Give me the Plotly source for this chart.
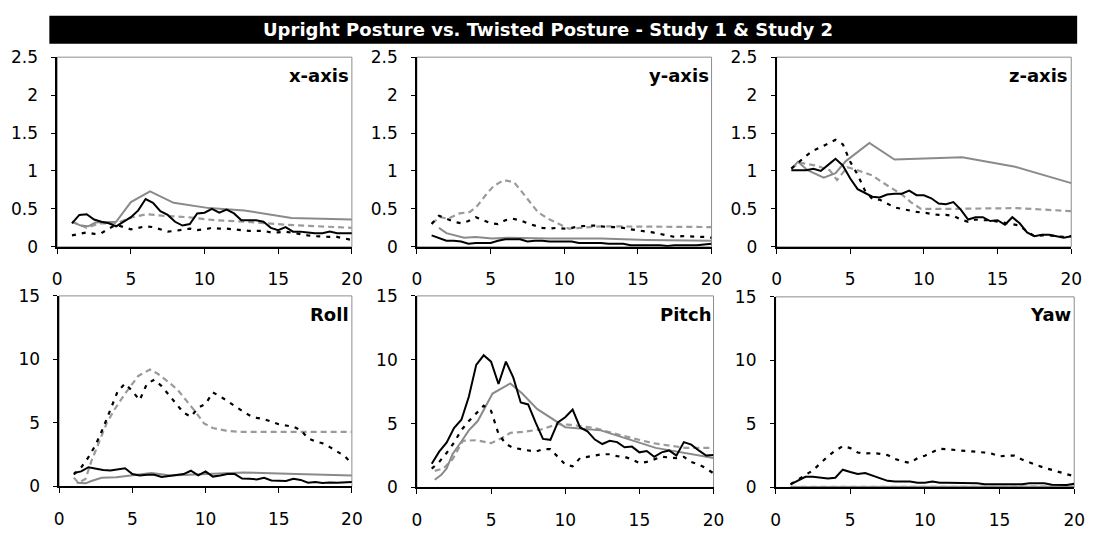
import plotly.graph_objects as go

TITLE = "Upright Posture vs. Twisted Posture - Study 1 & Study 2"
PANEL_TITLES = ["x-axis", "y-axis", "z-axis", "Roll", "Pitch", "Yaw"]
X_TICKS = [0, 5, 10, 15, 20]

# x grid of the black (Study) series
X_HALF = [1, 1.5, 2, 2.5, 3, 3.5, 4, 4.5, 5, 5.5, 6, 6.5, 7, 7.5, 8, 8.5, 9, 9.5, 10, 10.5,
          11, 11.5, 12, 12.5, 13, 13.5, 14, 14.5, 15, 15.5, 16, 16.5, 17, 17.5, 18, 18.5, 19, 19.5, 20]

# ---- x-axis panel ----
XAX_BLACK_SOLID = [0.31, 0.42, 0.43, 0.36, 0.33, 0.31, 0.27, 0.33, 0.39, 0.48, 0.63, 0.58, 0.47, 0.42, 0.33, 0.28, 0.30, 0.44, 0.45, 0.50,
                   0.45, 0.49, 0.44, 0.35, 0.35, 0.35, 0.33, 0.25, 0.22, 0.26, 0.20, 0.20, 0.19, 0.18, 0.18, 0.20, 0.18, 0.18, 0.18]
XAX_BLACK_DASH = [0.15, 0.17, 0.19, 0.17, 0.18, 0.24, 0.29, 0.26, 0.23, 0.25, 0.27, 0.26, 0.23, 0.20, 0.21, 0.23, 0.24, 0.22, 0.23, 0.25,
                  0.24, 0.24, 0.23, 0.22, 0.21, 0.21, 0.21, 0.19, 0.19, 0.20, 0.18, 0.17, 0.15, 0.14, 0.13, 0.13, 0.13, 0.11, 0.09]
XAX_GRAY_SOLID_X = [1, 1.6, 2.1, 2.6, 4, 5, 6.3, 7.9, 10.3, 12.7, 15.9, 20]
XAX_GRAY_SOLID = [0.33, 0.28, 0.27, 0.32, 0.33, 0.59, 0.73, 0.58, 0.51, 0.48, 0.38, 0.36]
XAX_GRAY_DASH_X = [1, 2, 2.9, 4, 5.1, 6.1, 7.1, 8.9, 10.7, 12.9, 15.6, 20]
XAX_GRAY_DASH = [0.33, 0.25, 0.31, 0.31, 0.39, 0.43, 0.41, 0.39, 0.35, 0.33, 0.29, 0.25]

# ---- y-axis panel ----
YAX_BLACK_SOLID = [0.15, 0.11, 0.08, 0.08, 0.07, 0.04, 0.05, 0.05, 0.05, 0.08, 0.10, 0.10, 0.10, 0.07, 0.08, 0.08, 0.07, 0.07, 0.07, 0.07,
                   0.05, 0.05, 0.05, 0.05, 0.04, 0.04, 0.04, 0.02, 0.02, 0.02, 0.02, 0.02, 0.01, 0.02, 0.02, 0.02, 0.02, 0.03, 0.04]
YAX_BLACK_DASH = [0.30, 0.41, 0.37, 0.33, 0.31, 0.34, 0.39, 0.35, 0.31, 0.30, 0.35, 0.37, 0.35, 0.31, 0.28, 0.25, 0.24, 0.25, 0.24, 0.25,
                  0.27, 0.28, 0.28, 0.27, 0.26, 0.26, 0.25, 0.23, 0.22, 0.21, 0.19, 0.17, 0.15, 0.13, 0.14, 0.14, 0.13, 0.13, 0.12]
YAX_GRAY_SOLID_X = [1.5, 2, 3.2, 4, 5.1, 6.2, 8.9, 10, 12.5, 15.6, 20]
YAX_GRAY_SOLID = [0.25, 0.18, 0.12, 0.13, 0.11, 0.12, 0.11, 0.11, 0.11, 0.09, 0.08]
YAX_GRAY_DASH_X = [1, 1.6, 2.1, 2.9, 3.6, 4.1, 4.7, 5.2, 5.9, 6.6, 7.1, 7.7, 8.2, 8.9, 9.6, 10.3, 11.1, 12.5, 20]
YAX_GRAY_DASH = [0.31, 0.39, 0.37, 0.44, 0.46, 0.54, 0.69, 0.80, 0.88, 0.85, 0.73, 0.59, 0.46, 0.37, 0.31, 0.24, 0.25, 0.27, 0.26]

# ---- z-axis panel ----
ZAX_BLACK_SOLID = [1.01, 1.01, 1.01, 1.03, 1.00, 1.08, 1.16, 1.07, 0.90, 0.76, 0.71, 0.66, 0.65, 0.69, 0.70, 0.70, 0.74, 0.68, 0.68, 0.64,
                   0.57, 0.56, 0.59, 0.49, 0.36, 0.39, 0.39, 0.34, 0.35, 0.29, 0.39, 0.31, 0.19, 0.14, 0.16, 0.16, 0.14, 0.12, 0.14]
ZAX_BLACK_DASH = [1.03, 1.12, 1.20, 1.27, 1.31, 1.36, 1.41, 1.35, 1.12, 0.95, 0.74, 0.63, 0.62, 0.57, 0.52, 0.50, 0.48, 0.46, 0.45, 0.43,
                  0.42, 0.42, 0.41, 0.36, 0.33, 0.36, 0.35, 0.35, 0.33, 0.31, 0.30, 0.28, 0.20, 0.14, 0.15, 0.15, 0.14, 0.13, 0.14]
ZAX_GRAY_SOLID_X = [1, 1.45, 2.1, 3.2, 4, 4.7, 6.3, 8, 12.6, 16.1, 20]
ZAX_GRAY_SOLID = [1.03, 1.12, 1.01, 0.91, 0.97, 1.13, 1.37, 1.15, 1.18, 1.06, 0.84]
ZAX_GRAY_DASH_X = [1, 1.56, 2.7, 3.6, 4.1, 4.8, 5.5, 6.5, 7.1, 7.8, 8.5, 9.1, 9.8, 11.6, 16.3, 20]
ZAX_GRAY_DASH = [1.03, 1.11, 1.07, 1.01, 0.88, 1.05, 1.01, 0.94, 0.86, 0.77, 0.69, 0.59, 0.50, 0.50, 0.51, 0.47]

# ---- Roll panel ----
ROLL_BLACK_SOLID = [1.06, 1.19, 1.52, 1.38, 1.30, 1.26, 1.36, 1.44, 0.98, 0.86, 0.92, 0.92, 0.75, 0.84, 0.90, 0.98, 1.24, 0.88, 1.19, 0.78,
                    0.86, 0.98, 0.98, 0.63, 0.60, 0.56, 0.68, 0.48, 0.45, 0.43, 0.61, 0.52, 0.30, 0.35, 0.28, 0.32, 0.30, 0.32, 0.35]
ROLL_BLACK_DASH = [0.94, 1.5, 2.3, 3.3, 4.6, 6.0, 7.5, 8.1, 7.5, 6.8, 8.1, 8.4, 7.9, 7.2, 6.5, 5.8, 5.5, 6.2, 6.5, 7.4,
                   7.1, 6.7, 6.3, 5.95, 5.6, 5.4, 5.3, 5.1, 4.9, 4.8, 4.7, 4.45, 3.8, 3.55, 3.4, 3.1, 2.75, 2.4, 1.8]
ROLL_GRAY_SOLID_X = [1.2, 1.8, 2.2, 2.9, 3.9, 5.2, 6.3, 7.6, 10.1, 12.6, 16.2, 20]
ROLL_GRAY_SOLID = [0.30, 0.25, 0.43, 0.68, 0.73, 0.94, 1.06, 0.86, 0.98, 1.11, 0.98, 0.86]
ROLL_GRAY_DASH_X = [1, 1.3, 1.8, 2.2, 2.8, 3.25, 3.8, 4.5, 5.4, 6.2, 6.7, 7.5, 8.1, 8.75, 9.3, 9.9, 10.5, 11.4, 12.3, 20]
ROLL_GRAY_DASH = [0.7, 0.3, 0.6, 2.0, 3.7, 5.0, 6.1, 7.3, 8.7, 9.2, 8.9, 8.2, 7.6, 6.7, 5.9, 4.96, 4.6, 4.4, 4.3, 4.3]

# ---- Pitch panel ----
PITCH_BLACK_SOLID = [1.85, 2.8, 3.5, 4.65, 5.3, 7.1, 9.6, 10.35, 9.85, 8.1, 9.85, 8.6, 6.65, 6.5, 5.1, 3.8, 3.73, 5.1, 5.5, 6.1,
                     4.7, 4.4, 3.75, 3.4, 3.65, 3.55, 3.15, 3.2, 2.75, 2.85, 2.4, 2.75, 2.9, 2.5, 3.55, 3.35, 2.9, 2.5, 2.55]
PITCH_BLACK_DASH = [1.47, 2.0, 2.7, 3.5, 4.5, 5.2, 5.8, 6.4, 6.0, 4.2, 3.4, 3.1, 3.0, 2.9, 2.8, 3.0, 3.0, 2.4, 1.8, 1.65,
                    2.3, 2.4, 2.5, 2.6, 2.6, 2.45, 2.4, 2.2, 1.9, 2.0, 2.2, 2.4, 2.35, 2.3, 2.4, 2.0, 1.8, 1.5, 1.1]
PITCH_GRAY_SOLID_X = [1.2, 1.65, 2, 2.4, 3, 3.5, 4.1, 5.1, 6.3, 7.1, 8.1, 10, 12.4, 16.1, 20]
PITCH_GRAY_SOLID = [0.6, 1.0, 1.48, 2.6, 3.6, 4.47, 5.2, 7.35, 8.15, 7.35, 6.15, 4.72, 4.47, 3.1, 2.3]
PITCH_GRAY_DASH_X = [1.2, 1.8, 2.4, 3.1, 4, 5, 5.7, 6.3, 7.1, 8.4, 9.5, 10.4, 12, 13.7, 15.9, 18.1, 20]
PITCH_GRAY_DASH = [1.3, 1.5, 2.2, 3.65, 3.7, 3.47, 3.85, 4.27, 4.35, 4.55, 4.97, 4.9, 4.65, 4.1, 3.47, 3.1, 3.1]

# ---- Yaw panel ----
YAW_BLACK_SOLID = [0.25, 0.55, 0.84, 0.84, 0.78, 0.71, 0.76, 1.4, 1.22, 1.06, 1.14, 0.92, 0.68, 0.52, 0.46, 0.46, 0.46, 0.38, 0.38, 0.46,
                   0.38, 0.38, 0.38, 0.33, 0.33, 0.33, 0.25, 0.25, 0.25, 0.25, 0.25, 0.25, 0.33, 0.33, 0.33, 0.22, 0.2, 0.2, 0.3]
YAW_BLACK_DASH = [0.25, 0.6, 0.95, 1.35, 1.9, 2.45, 2.9, 3.25, 3.1, 2.75, 2.68, 2.7, 2.65, 2.55, 2.24, 2.05, 1.93, 2.3, 2.5, 2.8,
                  3.05, 3.0, 2.95, 2.92, 2.85, 2.8, 2.75, 2.65, 2.45, 2.5, 2.5, 2.2, 1.95, 1.75, 1.55, 1.38, 1.2, 1.05, 0.88]
YAW_GRAY_SOLID_X = [1, 5, 10, 15, 20]
YAW_GRAY_SOLID = [0.04, 0.05, 0.05, 0.05, 0.05]
YAW_GRAY_DASH_X = [1, 5, 10, 15, 20]
YAW_GRAY_DASH = [0.05, 0.06, 0.06, 0.06, 0.06]

PANELS = [
    (XAX_BLACK_SOLID, XAX_BLACK_DASH, XAX_GRAY_SOLID_X, XAX_GRAY_SOLID, XAX_GRAY_DASH_X, XAX_GRAY_DASH),
    (YAX_BLACK_SOLID, YAX_BLACK_DASH, YAX_GRAY_SOLID_X, YAX_GRAY_SOLID, YAX_GRAY_DASH_X, YAX_GRAY_DASH),
    (ZAX_BLACK_SOLID, ZAX_BLACK_DASH, ZAX_GRAY_SOLID_X, ZAX_GRAY_SOLID, ZAX_GRAY_DASH_X, ZAX_GRAY_DASH),
    (ROLL_BLACK_SOLID, ROLL_BLACK_DASH, ROLL_GRAY_SOLID_X, ROLL_GRAY_SOLID, ROLL_GRAY_DASH_X, ROLL_GRAY_DASH),
    (PITCH_BLACK_SOLID, PITCH_BLACK_DASH, PITCH_GRAY_SOLID_X, PITCH_GRAY_SOLID, PITCH_GRAY_DASH_X, PITCH_GRAY_DASH),
    (YAW_BLACK_SOLID, YAW_BLACK_DASH, YAW_GRAY_SOLID_X, YAW_GRAY_SOLID, YAW_GRAY_DASH_X, YAW_GRAY_DASH),
]

W, H = 1099, 535
FONT = "DejaVu Sans, Arial, sans-serif"
GRAY_SOLID = "#8a8a8a"
GRAY_DASH = "#9a9a9a"

# pixel boxes (left, right, top, bottom)
BOXES = [(53, 352, 49, 246), (418, 717, 49, 246), (783, 1082, 49, 246),
         (55, 352, 297, 495), (418, 719, 297, 496), (782, 1085, 298, 496)]

fig = go.Figure()
shapes = []
annotations = []
layout = {}

for i, (bs, bd, gsx, gs, gdx, gd) in enumerate(PANELS):
    n = i + 1
    xa = "x" if n == 1 else f"x{n}"
    ya = "y" if n == 1 else f"y{n}"
    # order: gray dashed, gray solid, black dashed, black solid
    fig.add_trace(go.Scatter(x=gdx, y=gd, mode="lines", xaxis=xa, yaxis=ya,
                             line=dict(color=GRAY_DASH, width=2.2, dash="6px,4px"), showlegend=False))
    fig.add_trace(go.Scatter(x=gsx, y=gs, mode="lines", xaxis=xa, yaxis=ya,
                             line=dict(color=GRAY_SOLID, width=2), showlegend=False))
    fig.add_trace(go.Scatter(x=X_HALF, y=bd, mode="lines", xaxis=xa, yaxis=ya,
                             line=dict(color="black", width=2.2, dash="4px,6px"), showlegend=False))
    fig.add_trace(go.Scatter(x=X_HALF, y=bs, mode="lines", xaxis=xa, yaxis=ya,
                             line=dict(color="black", width=2), showlegend=False))

    l, r, t, b = BOXES[i]
    top_row = i < 3
    xkey = "xaxis" if n == 1 else f"xaxis{n}"
    ykey = "yaxis" if n == 1 else f"yaxis{n}"
    layout[xkey] = dict(domain=[l / W, r / W], anchor=ya, range=[0, 20], tickvals=X_TICKS,
                        showline=True, linecolor="black", linewidth=1.5, mirror=False,
                        ticks="outside", ticklen=5, tickcolor="black", tickwidth=1,
                        showgrid=False, zeroline=False, ticklabelstandoff=11,
                        tickfont=dict(family=FONT, size=17, color="black"))
    layout[ykey] = dict(domain=[1 - b / H, 1 - t / H], anchor=xa,
                        range=[0, 2.5] if top_row else [0, 15],
                        dtick=0.5 if top_row else 5, tick0=0,
                        showline=True, linecolor="black", linewidth=1.5, mirror=False,
                        ticks="outside", ticklen=4, tickcolor="black", tickwidth=1,
                        showgrid=False, zeroline=False, ticklabelstandoff=10,
                        tickfont=dict(family=FONT, size=17, color="black"))
    shapes.append(dict(type="rect", xref=f"{xa} domain", yref=f"{ya} domain",
                       x0=0, x1=1, y0=0, y1=1, line=dict(color="#8c8c8c", width=1),
                       layer="below"))
    annotations.append(dict(text=f"<b>{PANEL_TITLES[i]}</b>", xref=f"{xa} domain", yref=f"{ya} domain",
                            x=0.997, y=0.905, xanchor="right", yanchor="middle", showarrow=False,
                            font=dict(family=FONT, size=18, color="black")))

# title bar
shapes.append(dict(type="rect", xref="paper", yref="paper", x0=45 / W, x1=1088 / W,
                   y0=1 - 35 / H, y1=1 - 6 / H, fillcolor="black", line=dict(width=0), layer="above"))
annotations.append(dict(text=f"<b>{TITLE}</b>", xref="paper", yref="paper",
                        x=551 / W, y=1 - 20.5 / H, xanchor="center", yanchor="middle", showarrow=False,
                        font=dict(family=FONT, size=18, color="white")))

fig.update_layout(width=W, height=H, margin=dict(l=0, r=0, t=0, b=0),
                  paper_bgcolor="white", plot_bgcolor="white",
                  shapes=shapes, annotations=annotations, showlegend=False, **layout)

fig.write_html("out.html")
